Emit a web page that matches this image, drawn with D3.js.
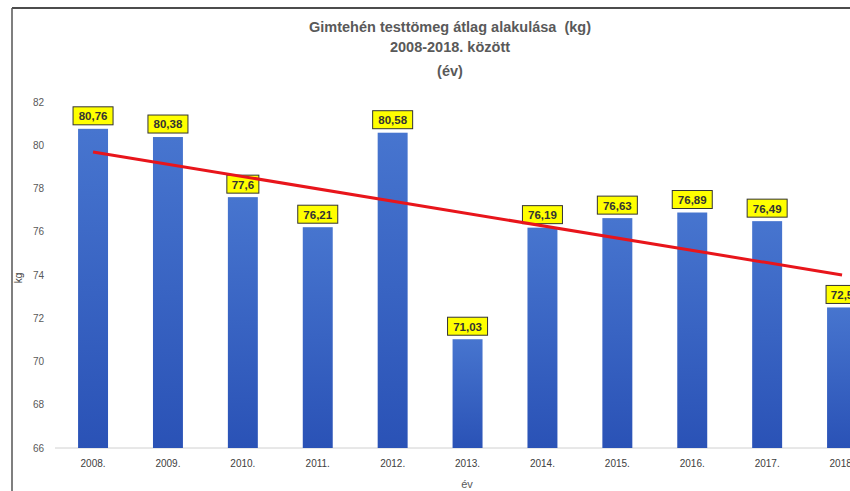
<!DOCTYPE html>
<html>
<head>
<meta charset="utf-8">
<script src="https://cdn.jsdelivr.net/npm/d3@7"></script>
<style>
  body { margin: 0; background: #fff; }
  svg { display: block; font-family: "Liberation Sans", "Open Sans", sans-serif; }
</style>
</head>
<body>
<div id="chart"></div>
<script>
// Gimtehén testtömeg bar chart
var years = ["2008.", "2009.", "2010.", "2011.", "2012.", "2013.", "2014.", "2015.", "2016.", "2017.", "2018."];
var weights = [80.76, 80.38, 77.6, 76.21, 80.58, 71.03, 76.19, 76.63, 76.89, 76.49, 72.5];
var valueLabels = ["80,76", "80,38", "77,6", "76,21", "80,58", "71,03", "76,19", "76,63", "76,89", "76,49", "72,5"];
var yTicks = [66, 68, 70, 72, 74, 76, 78, 80, 82];
// trend line ends
var trendYears = ["2008.", "2018."];
var trendValues = [79.69, 74.0];
var titleLines = ["Gimtehén testtömeg átlag alakulása  (kg)", "2008-2018. között", "(év)"];

var svgWidth = 850;
var svgHeight = 491;

var svg = d3.select("#chart")
    .append("svg")
    .attr("width", svgWidth)
    .attr("height", svgHeight);

var defs = svg.append("defs");
var grad = defs.append("linearGradient")
    .attr("id", "barGrad")
    .attr("x1", 0).attr("y1", 0).attr("x2", 0).attr("y2", 1);
grad.append("stop").attr("offset", "0%").attr("stop-color", "#4775cf");
grad.append("stop").attr("offset", "100%").attr("stop-color", "#2a52b6");

// frame lines (cropped image border)
svg.append("line")
    .attr("x1", 12).attr("x2", svgWidth).attr("y1", 8).attr("y2", 8)
    .attr("stroke", "#111").attr("stroke-width", 1.5);
svg.append("line")
    .attr("x1", 12).attr("x2", 12).attr("y1", 8).attr("y2", svgHeight)
    .attr("stroke", "#555").attr("stroke-width", 1.5);

// plot runs off the right edge like in the picture
var xScale = d3.scaleBand()
    .domain(years)
    .range([55.6, 879.5])
    .paddingInner(0.6)
    .paddingOuter(0.3);

var yScale = d3.scaleLinear()
    .domain([66, 82])
    .range([448, 102]);

// title
svg.append("g").selectAll("text")
    .data(titleLines)
    .enter()
    .append("text")
    .attr("x", 450)
    .attr("y", (d, i) => [32, 52, 76][i])
    .attr("text-anchor", "middle")
    .attr("font-size", 14.5)
    .attr("font-weight", "bold")
    .attr("fill", "#595959")
    .style("white-space", "pre")
    .text(d => d);

// baseline
svg.append("line")
    .attr("x1", 55).attr("x2", svgWidth)
    .attr("y1", yScale(66)).attr("y2", yScale(66))
    .attr("stroke", "#d0d0d0").attr("stroke-width", 1);

// y axis
var yAxis = svg.append("g")
    .attr("transform", "translate(48,0)")
    .call(d3.axisLeft(yScale).tickValues(yTicks).tickSize(0).tickPadding(4));
yAxis.select(".domain").remove();
yAxis.selectAll("text")
    .attr("font-size", 10)
    .attr("fill", "#595959");

// x axis
var xAxis = svg.append("g")
    .attr("transform", `translate(0, ${yScale(66)})`)
    .call(d3.axisBottom(xScale).tickSize(0).tickPadding(12));
xAxis.select(".domain").remove();
xAxis.selectAll("text")
    .attr("font-size", 10)
    .attr("fill", "#404040");

// axis titles
svg.append("text")
    .attr("transform", "translate(22, 278) rotate(-90)")
    .attr("text-anchor", "middle")
    .attr("font-size", 10)
    .attr("fill", "#404040")
    .text("kg");
svg.append("text")
    .attr("x", 467)
    .attr("y", 488)
    .attr("text-anchor", "middle")
    .attr("font-size", 11)
    .attr("fill", "#595959")
    .text("év");

// bars
svg.append("g").selectAll("rect")
    .data(weights)
    .enter()
    .append("rect")
    .attr("x", (d, i) => xScale(years[i]))
    .attr("y", d => yScale(d))
    .attr("width", xScale.bandwidth())
    .attr("height", d => yScale(66) - yScale(d))
    .attr("fill", "url(#barGrad)");

// value labels
var labelGroup = svg.append("g").selectAll("g")
    .data(weights)
    .enter()
    .append("g")
    .attr("transform", (d, i) => `translate(${xScale(years[i]) + xScale.bandwidth() / 2}, ${yScale(d) - 13})`);

labelGroup.append("rect")
    .attr("x", (d, i) => valueLabels[i].length > 4 ? -20 : -16)
    .attr("y", -9)
    .attr("width", (d, i) => valueLabels[i].length > 4 ? 40 : 32)
    .attr("height", 18)
    .attr("fill", "#ffff00")
    .attr("stroke", "#333")
    .attr("stroke-width", 1);

labelGroup.append("text")
    .attr("text-anchor", "middle")
    .attr("dy", "0.38em")
    .attr("font-size", 11.5)
    .attr("font-weight", "bold")
    .attr("fill", "#333")
    .text((d, i) => valueLabels[i]);

// trend line
var trendLine = d3.line()
    .x((d, i) => xScale(trendYears[i]) + xScale.bandwidth() / 2)
    .y(d => yScale(d));

svg.append("path")
    .datum(trendValues)
    .attr("d", trendLine)
    .attr("fill", "none")
    .attr("stroke", "#e8151b")
    .attr("stroke-width", 3);
</script>
</body>
</html>
